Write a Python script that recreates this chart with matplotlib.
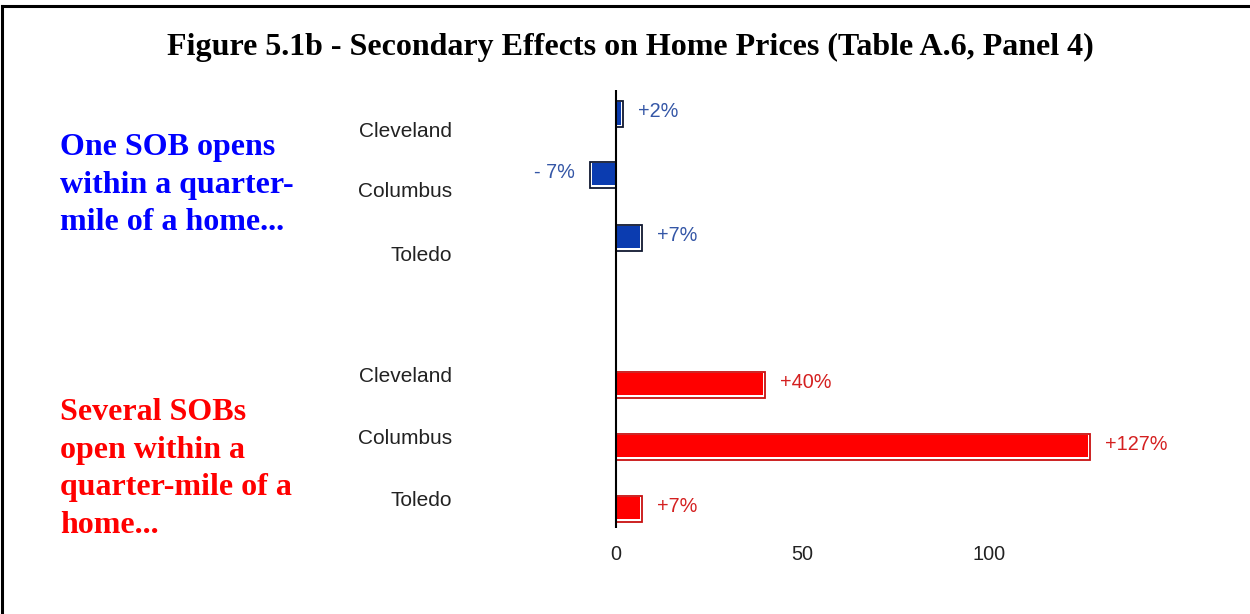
import matplotlib
matplotlib.use("Agg")
import matplotlib.pyplot as plt
import matplotlib.transforms as mtransforms
from matplotlib.lines import Line2D

# ---- data ----
categories = ["Cleveland", "Columbus", "Toledo", "Cleveland", "Columbus", "Toledo"]
one_sob = [2, -7, 7]
several_sob = [40, 127, 7]
value_labels = ["+2%", "- 7%", "+7%", "+40%", "+127%", "+7%"]
xticks = [0, 50, 100]
title = "Figure 5.1b - Secondary Effects on Home Prices (Table A.6, Panel 4)"
blue_text = "One SOB opens\nwithin a quarter-\nmile of a home..."
red_text = "Several SOBs\nopen within a\nquarter-mile of a\nhome..."

# ---- layout / style ----
W, H = 1250, 614
fig = plt.figure(figsize=(W / 100, H / 100), dpi=100)
fig.patch.set_facecolor("white")

ax = fig.add_axes([560 / W, 1 - 528 / H, 640 / W, (528 - 90) / H])
ypos = [0, 0.98, 2.0, 4.37, 5.37, 6.37]
values = one_sob + several_sob
face = ["#0b3cb0"] * 3 + ["#ff0000"] * 3
edge = ["#101830"] * 3 + ["#c81010"] * 3
txtcol = ["#3456a6"] * 3 + ["#d42020"] * 3
bh = 0.42

ax.set_xlim(-15, 156.5)
ax.set_ylim(6.68, -0.39)

# outer bars (white "highlight" with dark edge), then inner filled bars
ax.barh(ypos, values, height=bh, color="white", edgecolor=edge, linewidth=1.3, zorder=2)
inner = [v - (0.6 if v > 0 else -0.6) for v in values]
ax.barh([y - 0.015 for y in ypos], inner, height=bh - 0.055, color=face, linewidth=0, zorder=3)

ax.axvline(0, color="black", linewidth=1.5, zorder=4)

for y, v, lab, c in zip(ypos, values, value_labels, txtcol):
    off = 4.0 if v >= 0 else -4.0
    ax.text(v + off, y - 0.04, lab, ha="left" if v >= 0 else "right", va="center",
            fontsize=14.3, color=c, family="Liberation Sans")

for s in ax.spines.values():
    s.set_visible(False)

ax.set_xticks(xticks)
ax.set_xticklabels([str(t) for t in xticks], fontsize=14.3, color="#222222", family="Liberation Sans")
ax.tick_params(axis="x", length=0, pad=12)

ax.set_yticks(ypos)
ax.set_yticklabels(categories, fontsize=15, color="#222222", family="Liberation Sans")
ax.tick_params(axis="y", length=0, pad=78)
for i, lab in enumerate(ax.get_yticklabels()):
    dy = -15 if i < 3 else 10
    lab.set_transform(lab.get_transform() + mtransforms.ScaledTranslation(0, dy / 100, fig.dpi_scale_trans))

# title and side texts
fig.text(630 / W, 1 - 47 / H, title, ha="center", va="center", fontsize=23,
         fontweight="bold", family="Liberation Serif", color="black")
fig.text(60 / W, 1 - 185 / H, blue_text, ha="left", va="center", fontsize=23,
         fontweight="bold", family="Liberation Serif", color="#0000ff", linespacing=1.39)
fig.text(60 / W, 1 - 469 / H, red_text, ha="left", va="center", fontsize=23,
         fontweight="bold", family="Liberation Serif", color="#ff0000", linespacing=1.39)

# frame border
fig.add_artist(Line2D([2 / W, 2 / W], [0, 1 - 6 / H], transform=fig.transFigure, color="black", linewidth=2.2))
fig.add_artist(Line2D([2 / W, 1], [1 - 6 / H, 1 - 6 / H], transform=fig.transFigure, color="black", linewidth=2.2))

fig.savefig("out.png", dpi=100)
